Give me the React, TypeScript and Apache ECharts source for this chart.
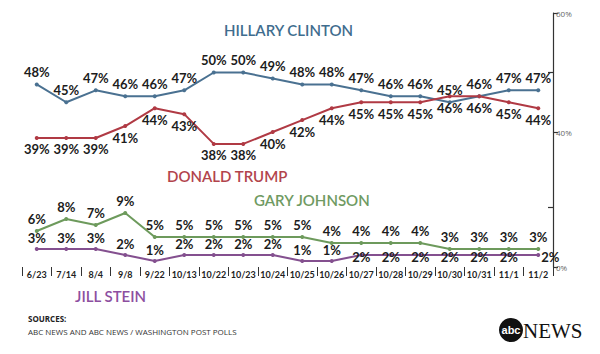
import React, { useEffect, useRef } from "react";
import * as echarts from "echarts";

const categories = ["6/23", "7/14", "8/4", "9/8", "9/22", "10/13", "10/22", "10/23", "10/24", "10/25", "10/26", "10/27", "10/28", "10/29", "10/30", "10/31", "11/1", "11/2"];
const clinton = [48, 45, 47, 46, 46, 47, 50, 50, 49, 48, 48, 47, 46, 46, 45, 46, 47, 47];
const trump = [39, 39, 39, 41, 44, 43, 38, 38, 40, 42, 44, 45, 45, 45, 46, 46, 45, 44];
const johnson = [6, 8, 7, 9, 5, 5, 5, 5, 5, 5, 4, 4, 4, 4, 3, 3, 3, 3];
const stein = [3, 3, 3, 2, 1, 2, 2, 2, 2, 1, 1, 2, 2, 2, 2, 2, 2, 2];
const upperTicks = [40, 60];
const upperMinorTicks = [50];
const lowerTicks = [0];
const lowerMinorTicks = [10];

const LABEL_FONT = "Lato";

export default function App() {
  const ref = useRef<HTMLDivElement>(null);
  useEffect(() => {
    if (!ref.current) return;
    const chart = echarts.init(ref.current, undefined, { renderer: "svg" });
    const labelBase = {
      show: true,
      formatter: "{c}%",
      fontFamily: LABEL_FONT,
      fontWeight: "bold" as const,
      fontSize: 13,
      color: "#1c1c1c",
    };
    const gridCommon = { left: 22, right: 47 };
    const axisLineStyle = { color: "#333", width: 1.2 };
    const steinData = stein.map((v, i) => {
      if (i === stein.length - 1) return { value: v, label: { position: "right" as const, distance: 1, offset: [0, 2] } };
      if (i >= 11) return { value: v, label: { position: "inside" as const, offset: [0, 2] } };
      return v;
    });
    const option: any = {
      animation: false,
      backgroundColor: "#ffffff",
      grid: [
        { ...gridCommon, top: 13, height: 119 },
        { ...gridCommon, top: 132, height: 135 },
      ],
      xAxis: [
        {
          gridIndex: 0,
          type: "category",
          data: categories,
          boundaryGap: true,
          axisLine: { show: false },
          axisTick: { show: false },
          axisLabel: { show: false },
        },
        {
          gridIndex: 1,
          type: "category",
          data: categories,
          boundaryGap: true,
          axisLine: { show: false },
          axisTick: { show: true, length: 9, interval: 0, lineStyle: { color: "#333", width: 1 } },
          axisLabel: {
            interval: 0,
            margin: 3,
            fontFamily: LABEL_FONT,
            fontWeight: "bold",
            fontSize: 9,
            color: "#222",
          },
        },
      ],
      yAxis: [
        {
          gridIndex: 0,
          type: "value",
          position: "right",
          min: 40,
          max: 60,
          splitLine: { show: false },
          axisLine: { show: true, lineStyle: axisLineStyle },
          axisTick: { show: true, length: 5, customValues: upperTicks, lineStyle: axisLineStyle },
          axisLabel: { show: true, customValues: upperTicks, formatter: "{value}%", fontSize: 8, color: "#666", margin: 3, fontFamily: "Open Sans" },
        },
        {
          gridIndex: 0,
          type: "value",
          position: "right",
          min: 40,
          max: 60,
          splitLine: { show: false },
          axisLine: { show: false },
          axisTick: { show: true, inside: true, length: 5, customValues: upperMinorTicks, lineStyle: axisLineStyle },
          axisLabel: { show: false },
        },
        {
          gridIndex: 1,
          type: "value",
          position: "right",
          min: 0,
          max: 22.5,
          splitLine: { show: false },
          axisLine: { show: true, lineStyle: axisLineStyle },
          axisTick: { show: true, length: 5, customValues: lowerTicks, lineStyle: axisLineStyle },
          axisLabel: { show: true, customValues: lowerTicks, formatter: "{value}%", fontSize: 8, color: "#666", margin: 3, fontFamily: "Open Sans" },
        },
        {
          gridIndex: 1,
          type: "value",
          position: "right",
          min: 0,
          max: 22.5,
          splitLine: { show: false },
          axisLine: { show: false },
          axisTick: { show: true, inside: true, length: 5, customValues: lowerMinorTicks, lineStyle: axisLineStyle },
          axisLabel: { show: false },
        },
      ],
      series: [
        {
          name: "Hillary Clinton",
          type: "line",
          xAxisIndex: 0,
          yAxisIndex: 0,
          data: clinton,
          clip: false,
          symbol: "circle",
          symbolSize: 4,
          color: "#4a7191",
          lineStyle: { width: 2, color: "#4a7191" },
          label: { ...labelBase, position: "top", distance: 4 },
        },
        {
          name: "Donald Trump",
          type: "line",
          xAxisIndex: 0,
          yAxisIndex: 0,
          data: trump,
          clip: false,
          symbol: "circle",
          symbolSize: 4,
          color: "#b03a44",
          lineStyle: { width: 2, color: "#b03a44" },
          label: { ...labelBase, position: "bottom", distance: 3 },
        },
        {
          name: "Gary Johnson",
          type: "line",
          xAxisIndex: 1,
          yAxisIndex: 2,
          data: johnson,
          clip: false,
          symbol: "circle",
          symbolSize: 4,
          color: "#6d9a5c",
          lineStyle: { width: 2, color: "#6d9a5c" },
          label: { ...labelBase, position: "top", distance: 4 },
        },
        {
          name: "Jill Stein",
          type: "line",
          xAxisIndex: 1,
          yAxisIndex: 2,
          data: steinData,
          clip: false,
          symbol: "circle",
          symbolSize: 4,
          color: "#84508f",
          lineStyle: { width: 2, color: "#84508f" },
          label: { ...labelBase, position: "top", distance: 3 },
        },
      ],
      graphic: [
        { type: "text", x: 224, y: 30, style: { text: "HILLARY CLINTON", fill: "#3f6d8e", font: `600 15px ${LABEL_FONT}`, verticalAlign: "middle", align: "left" } },
        { type: "text", x: 167, y: 176, style: { text: "DONALD TRUMP", fill: "#b2444c", font: `600 15px ${LABEL_FONT}`, verticalAlign: "middle", align: "left" } },
        { type: "text", x: 254, y: 200, style: { text: "GARY JOHNSON", fill: "#6f9a62", font: `600 15px ${LABEL_FONT}`, verticalAlign: "middle", align: "left" } },
        { type: "text", x: 75, y: 296, style: { text: "JILL STEIN", fill: "#8d4fa0", font: `600 15px ${LABEL_FONT}`, verticalAlign: "middle", align: "left" } },
        { type: "text", x: 28, y: 318, style: { text: "SOURCES:", fill: "#222", font: `bold 8px 'Open Sans'`, verticalAlign: "middle", align: "left" } },
        { type: "text", x: 28, y: 331, style: { text: "ABC NEWS AND ABC NEWS / WASHINGTON POST POLLS", fill: "#333", font: `8px 'Open Sans'`, verticalAlign: "middle", align: "left" } },
        { type: "circle", shape: { cx: 511, cy: 330, r: 12 }, style: { fill: "#111" } },
        { type: "text", x: 511, y: 330, style: { text: "abc", fill: "#fff", font: `bold 11px Arial, 'Liberation Sans'`, verticalAlign: "middle", align: "center" } },
        { type: "text", x: 523, y: 331, style: { text: "NEWS", fill: "#111", font: `21px 'Liberation Serif'`, verticalAlign: "middle", align: "left" } },
      ],
    };
    chart.setOption(option);
    return () => chart.dispose();
  }, []);
  return (
    <div
      ref={ref}
      style={{ position: "fixed", left: 0, top: 0, width: 600, height: 354, background: "#fff" }}
    />
  );
}
